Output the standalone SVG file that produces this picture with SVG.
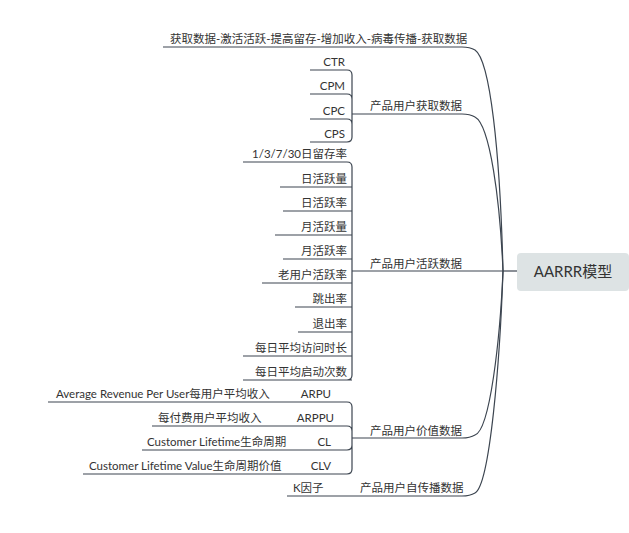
<svg xmlns="http://www.w3.org/2000/svg" width="629" height="533" viewBox="0 0 629 533">
<style>
text{font-family:"Lato","Noto Sans CJK SC",sans-serif;font-size:11.5px;fill:#333}
.c{fill:none;stroke:#3c4550;stroke-width:1.2}
</style>
<rect width="629" height="533" fill="#fff"/>
<g id="connectors">
<path class="c" d="M517 271H503"/>
<path class="c" d="M503 271C500 150 490 60 475 50Q470 47 462 47H163"/>
<path class="c" d="M503 271C500 200 490 125 475 117Q470 114 462 114H352"/>
<path class="c" d="M503 271H352"/>
<path class="c" d="M503 271C500 340 490 430 475 435Q470 438 462 438H352"/>
<path class="c" d="M503 271C500 360 490 485 475 493Q470 496 462 496H287"/>
<path class="c" d="M352 114V75Q352 70 347 70H310M352 114V99Q352 94 347 94H310M352 114V124Q352 119 347 119H310M352 114V137Q352 142 347 142H310"/>
<path class="c" d="M352 272V167Q352 162 347 162H243M352 187H280M352 211H283M352 235H275M352 259H283M352 283H262M352 307H295M352 332H298M352 356H243M352 380H243M352 272V375Q352 380 347 380"/>
<path class="c" d="M352 438V407Q352 402 347 402H48M352 438V431Q352 426 347 426H152M352 438V445Q352 450 347 450H142M352 438V469Q352 474 347 474H83"/>
</g>
<g id="root"><rect x="517" y="253" width="112" height="38" rx="4" fill="#dde3e4"/><text x="573" y="277" text-anchor="middle" style="font-size:15px">AARRR模型</text></g>
<g id="b1"><text x="170" y="43">获取数据-激活活跃-提高留存-增加收入-病毒传播-获取数据</text></g>
<g id="b2"><text x="370" y="110">产品用户获取数据</text>
<text x="345" y="66" text-anchor="end">CTR</text><text x="345" y="90" text-anchor="end">CPM</text><text x="345" y="115" text-anchor="end">CPC</text><text x="345" y="138" text-anchor="end">CPS</text></g>
<g id="b3"><text x="370" y="268">产品用户活跃数据</text>
<text x="347" y="158" text-anchor="end">1/3/7/30日留存率</text>
<text x="347" y="183" text-anchor="end">日活跃量</text>
<text x="347" y="207" text-anchor="end">日活跃率</text>
<text x="347" y="231" text-anchor="end">月活跃量</text>
<text x="347" y="255" text-anchor="end">月活跃率</text>
<text x="347" y="279" text-anchor="end">老用户活跃率</text>
<text x="347" y="303" text-anchor="end">跳出率</text>
<text x="347" y="328" text-anchor="end">退出率</text>
<text x="347" y="352" text-anchor="end">每日平均访问时长</text>
<text x="347" y="376" text-anchor="end">每日平均启动次数</text></g>
<g id="b4"><text x="370" y="435">产品用户价值数据</text>
<text x="56" y="398">Average Revenue Per User每用户平均收入</text><text x="331" y="398" text-anchor="end">ARPU</text>
<text x="158" y="422">每付费用户平均收入</text><text x="334" y="422" text-anchor="end">ARPPU</text>
<text x="147" y="446">Customer Lifetime生命周期</text><text x="331" y="446" text-anchor="end">CL</text>
<text x="89" y="470">Customer Lifetime Value生命周期价值</text><text x="331" y="470" text-anchor="end">CLV</text></g>
<g id="b5"><text x="360" y="492">产品用户自传播数据</text><text x="293" y="492">K因子</text></g>
</svg>
